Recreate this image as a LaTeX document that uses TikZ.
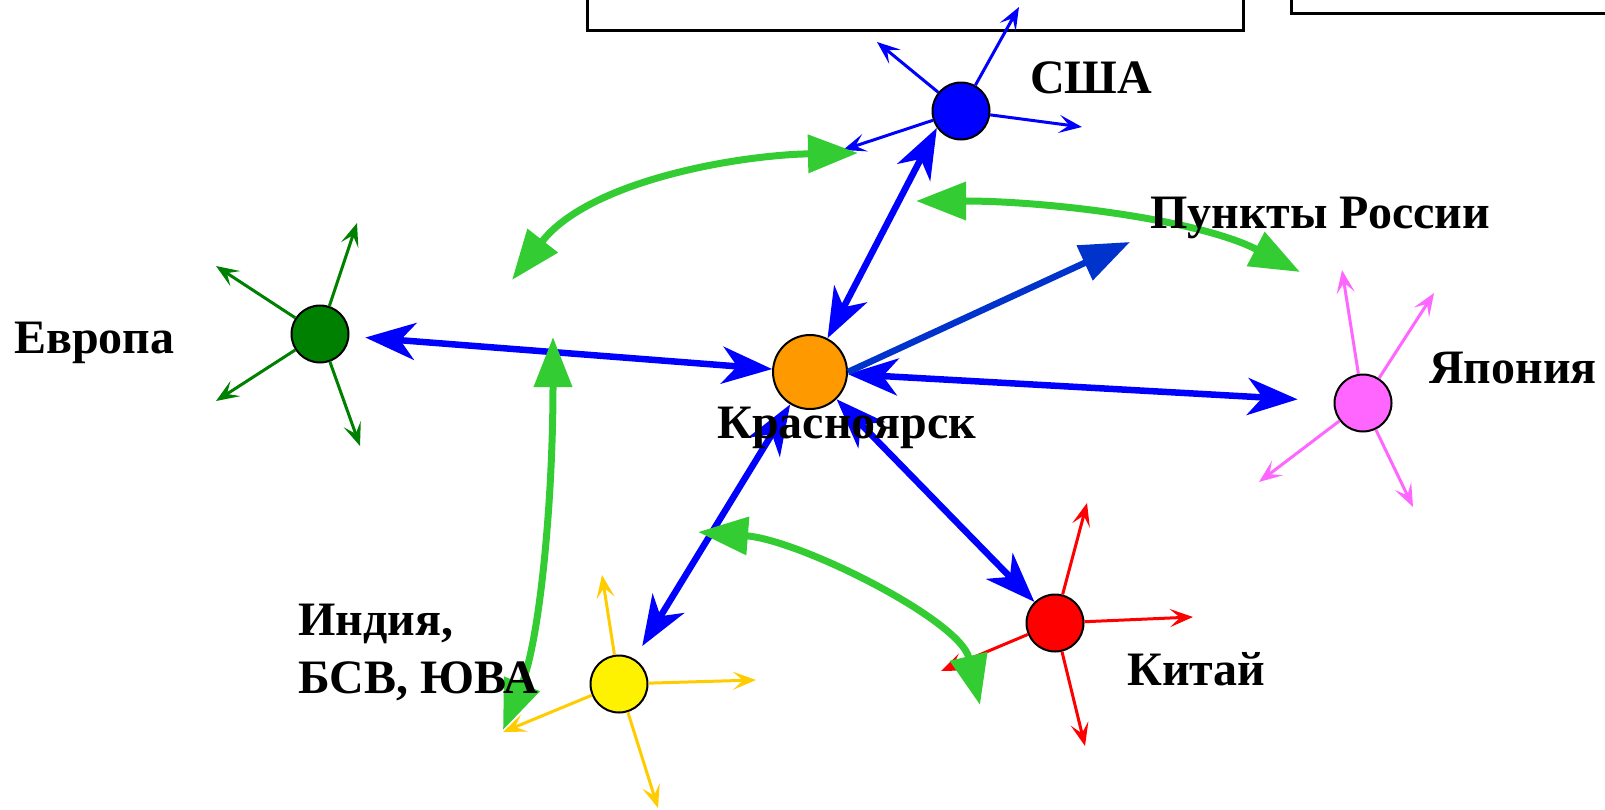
\documentclass[tikz,border=0pt]{standalone}
\usepackage{fontspec}
\setmainfont{Liberation Serif}
\usetikzlibrary{arrows.meta}
\definecolor{huborange}{RGB}{255,153,0}
\definecolor{eugreen}{RGB}{0,128,0}
\definecolor{jppink}{RGB}{255,102,255}
\definecolor{ingold}{RGB}{255,204,0}
\definecolor{rudark}{RGB}{0,51,204}
\definecolor{flowgreen}{RGB}{51,204,51}

\begin{document}
\begin{tikzpicture}[x=1pt, y=-1pt,
  city/.style={circle, draw=black, line width=2pt, minimum size=57pt, inner sep=0pt},
  ray/.style={-{Stealth[length=23pt, width=18pt, inset=10pt]}, line width=3pt},
  link/.style={{Stealth[length=50pt, width=37pt, inset=15pt]}-{Stealth[length=50pt, width=37pt, inset=15pt]},
               line width=6.5pt, blue},
  flow/.style={{Triangle[length=50pt, width=37pt]}-{Triangle[length=50pt, width=37pt]},
               line width=7pt, flowgreen},
  lbl/.style={font=\fontsize{48}{58}\selectfont\bfseries, inner sep=0pt, align=left},
  panel/.style={draw=black, line width=3pt, inner sep=0pt}]
\useasboundingbox (0,0) rectangle (1605,809);
\node[panel, minimum width=656pt, minimum height=70pt] (box1) at (915,-5) {};
\node[panel, minimum width=340pt, minimum height=60pt] (box2) at (1461,-17) {};
\node[city, fill=blue] (usa) at (961,111) {};
\node[city, fill=huborange, minimum size=74pt] (kras) at (810,372) {};
\node[city, fill=eugreen] (euro) at (320,334) {};
\node[city, fill=jppink] (japan) at (1363,403) {};
\node[city, fill=red] (china) at (1055,623) {};
\node[city, fill=yellow] (india) at (619,684) {};
\foreach \x/\y [count=\i] in {1019/7, 877/42, 1082/127, 843/150}
  {\coordinate (usa-\i) at (\x,\y); \draw[ray, blue] (usa) -- (usa-\i);}
\foreach \x/\y [count=\i] in {357/223, 216/266, 216/401, 360/446}
  {\coordinate (euro-\i) at (\x,\y); \draw[ray, eugreen] (euro) -- (euro-\i);}
\foreach \x/\y [count=\i] in {1342/270, 1434/293, 1259/482, 1413/507}
  {\coordinate (japan-\i) at (\x,\y); \draw[ray, jppink] (japan) -- (japan-\i);}
\foreach \x/\y [count=\i] in {1087/503, 1193/617, 941/671, 1085/746}
  {\coordinate (china-\i) at (\x,\y); \draw[ray, red] (china) -- (china-\i);}
\foreach \x/\y [count=\i] in {602/575, 756/680, 503/732, 658/808}
  {\coordinate (india-\i) at (\x,\y); \draw[ray, ingold] (india) -- (india-\i);}
\draw[link] (kras) -- (usa.215);
\draw[link, shorten <=16pt] (euro) -- (kras);
\draw[link, shorten >=36pt] (kras) -- (japan);
\draw[link] (kras) -- (china);
\draw[link, shorten >=15pt] (kras) -- (india);
\coordinate (ru) at (1130,242);
\draw[-{Triangle[length=50pt, width=37pt]}, line width=6.5pt, rudark] (kras.east) -- (ru);
\coordinate (f1a) at (512,280);
\coordinate (f1b) at (858,153);
\coordinate (f2a) at (916,201);
\coordinate (f2b) at (1300,272);
\coordinate (f3a) at (553,337);
\coordinate (f3b) at (503,730);
\coordinate (f4a) at (698,532);
\coordinate (f4b) at (980,705);
\draw[flow] (f1a) .. controls (590,180) and (740,155) .. (f1b);
\draw[flow] (f2a) .. controls (1050,201) and (1200,220) .. (f2b);
\draw[flow] (f3a) .. controls (553,500) and (540,640) .. (f3b);
\draw[flow] (f4a) .. controls (800,540) and (960,620) .. (f4b);
\node[lbl, anchor=base west] (usaL) at (1030,93) {США};
\node[lbl, anchor=base west] (ruL) at (1150,228) {Пункты России};
\node[lbl, anchor=base west] (euL) at (14,353) {Европа};
\node[lbl, anchor=base west] (krL) at (717,438) {Красноярск};
\node[lbl, anchor=base west] (jpL) at (1429,383) {Япония};
\node[lbl, anchor=base west] (inL) at (298,693) {Индия,\\БСВ, ЮВА};
\node[lbl, anchor=base west] (cnL) at (1127,685) {Китай};
\end{tikzpicture}
\end{document}
